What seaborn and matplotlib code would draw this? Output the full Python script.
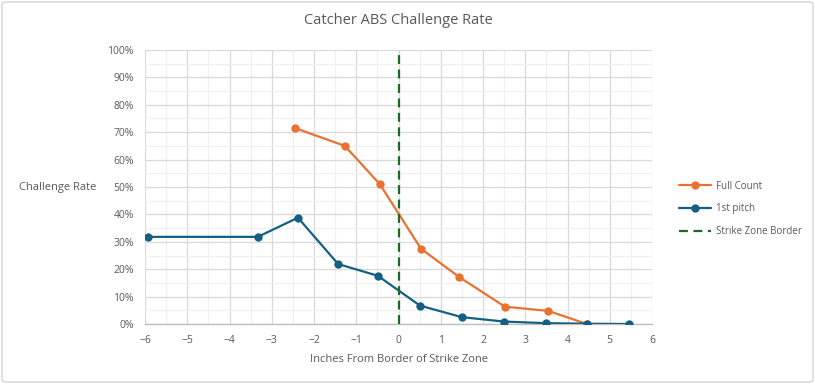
import matplotlib
matplotlib.use("Agg")
import matplotlib.pyplot as plt
import seaborn as sns
import pandas as pd
from matplotlib.ticker import MultipleLocator, FuncFormatter
from matplotlib.patches import FancyBboxPatch
from matplotlib.lines import Line2D

full_x = [-2.45, -1.27, -0.44, 0.53, 1.43, 2.52, 3.54, 4.46]
full_y = [71.5, 65.0, 51.0, 27.5, 17.2, 6.3, 4.8, 0.0]
first_x = [-5.93, -3.33, -2.38, -1.43, -0.49, 0.51, 1.50, 2.49, 3.50, 4.46, 5.46]
first_y = [31.8, 31.8, 38.8, 21.9, 17.6, 6.7, 2.5, 0.9, 0.3, 0.1, 0.0]
border_x = [0, 0]
border_y = [0, 100]
series_names = ["Full Count", "1st pitch", "Strike Zone Border"]

sns.set_theme(style="white")
plt.rcParams['font.family'] = ['Open Sans', 'DejaVu Sans']

txt = "#595959"
df = pd.concat([
    pd.DataFrame({"x": full_x, "y": full_y, "s": series_names[0]}),
    pd.DataFrame({"x": first_x, "y": first_y, "s": series_names[1]}),
])

fig = plt.figure(figsize=(8.15, 3.84), dpi=100)
ax = fig.add_axes([145/815, 60/384, 507/815, 274/384])

sns.lineplot(data=df, x="x", y="y", hue="s", palette=["#E97132", "#156082"],
             marker="o", markersize=6, markeredgewidth=0, linewidth=1.6,
             sort=False, ax=ax, legend=False, zorder=3)
sns.lineplot(x=border_x, y=border_y, color="#196B24", linestyle=(0, (4, 2.5)),
             linewidth=1.6, ax=ax, zorder=4, estimator=None, sort=False)

ax.set_xlim(-6, 6)
ax.set_ylim(0, 100)
ax.xaxis.set_major_locator(MultipleLocator(1))
ax.xaxis.set_minor_locator(MultipleLocator(0.5))
ax.yaxis.set_major_locator(MultipleLocator(10))
ax.yaxis.set_minor_locator(MultipleLocator(5))
ax.yaxis.set_major_formatter(FuncFormatter(lambda v, p: f"{v:.0f}%"))
ax.grid(which="major", color="#d9d9d9", linewidth=0.9, zorder=0)
ax.grid(which="minor", color="#f0f0f0", linewidth=0.9, zorder=0)
ax.set_axisbelow(True)
for s in ["top", "right", "left"]:
    ax.spines[s].set_visible(False)
ax.spines["bottom"].set_color("#bfbfbf")
ax.spines["bottom"].set_linewidth(1.0)
ax.tick_params(axis="both", which="both", length=0, labelsize=7.5, labelcolor=txt, pad=8)
ax.set_xlabel("Inches From Border of Strike Zone", fontsize=8, color=txt, labelpad=6)
ax.set_ylabel("")
fig.text(58/815, 1 - 187/384, "Challenge Rate", fontsize=8, color=txt, ha="center", va="center")
fig.text(398/815, 1 - 20/384, "Catcher ABS Challenge Rate", fontsize=10.5, color=txt, ha="center", va="center")

handles = [
    Line2D([], [], color="#E97132", marker="o", markersize=6, markeredgewidth=0, linewidth=1.6),
    Line2D([], [], color="#156082", marker="o", markersize=6, markeredgewidth=0, linewidth=1.6),
    Line2D([], [], color="#196B24", linestyle=(0, (4, 2.5)), linewidth=1.6),
]
fig.legend(handles, series_names, loc="center left", bbox_to_anchor=(670/815, 1 - 209/384),
           frameon=False, fontsize=7, labelcolor=txt, handlelength=3.3, labelspacing=1.2,
           handletextpad=0.5)

fig.patches.append(FancyBboxPatch((2/815, 2/384), 811/815, 380/384,
                                  boxstyle="round,pad=0,rounding_size=0.006",
                                  transform=fig.transFigure, fill=False,
                                  edgecolor="#d0d0d0", linewidth=0.9))

fig.savefig("out.png", dpi=100)
